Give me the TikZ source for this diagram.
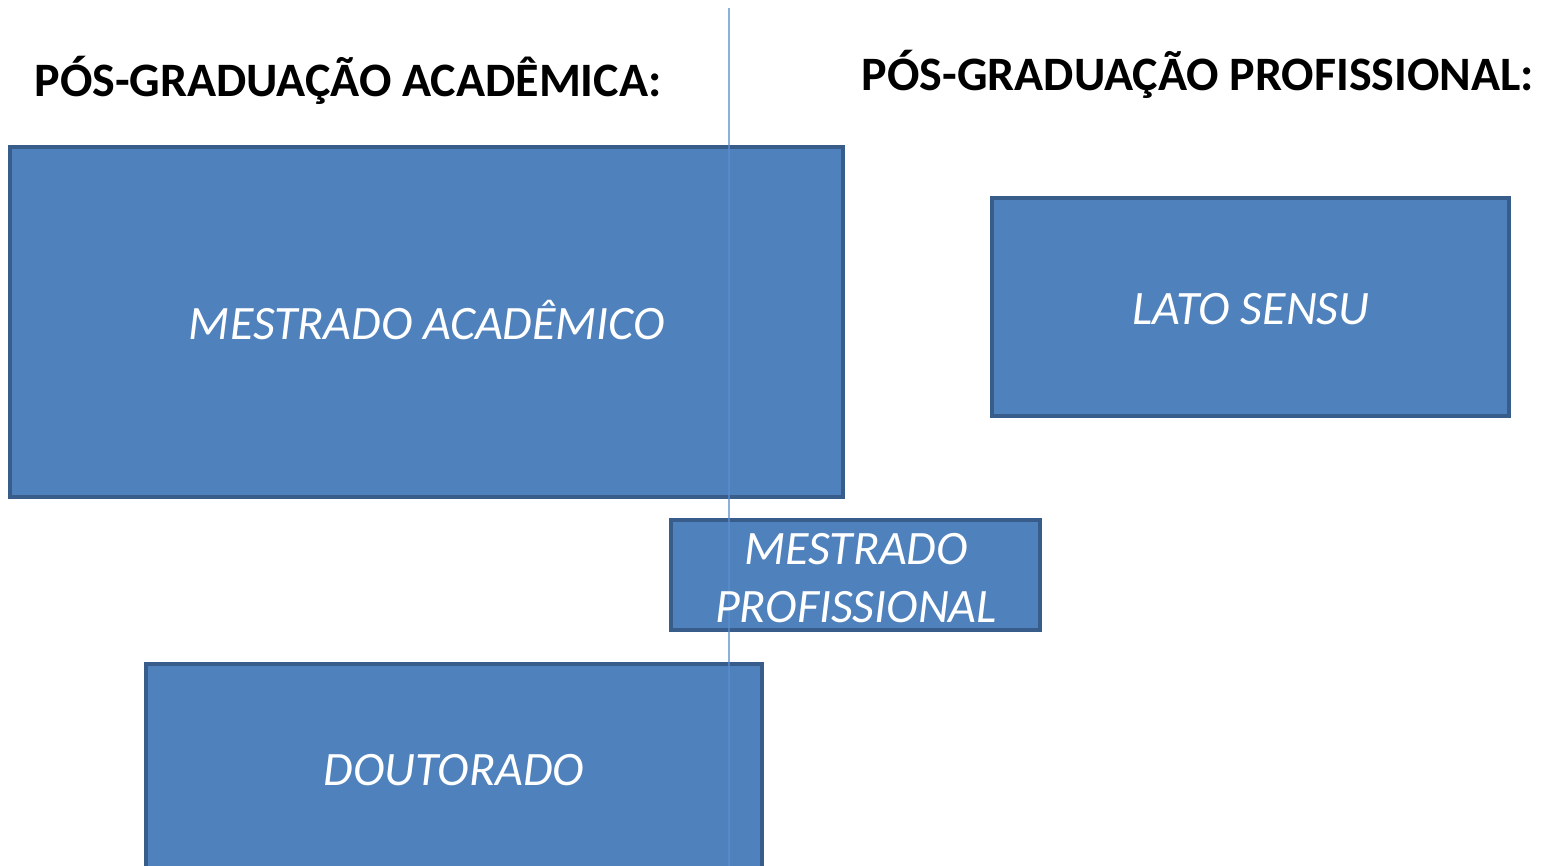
\documentclass[tikz,border=0pt]{standalone}
\usepackage{fontspec}
\setmainfont{Carlito}
\definecolor{boxfill}{HTML}{4F81BD}
\definecolor{boxline}{HTML}{385D8A}
\definecolor{vline}{HTML}{5B8ED0}
\begin{document}
\begin{tikzpicture}[x=1pt,y=-1pt,
  blk/.style={draw=boxline,line width=3.5pt,fill=boxfill},
  lbl/.style={anchor=base,text=white,font=\fontsize{48}{56}\selectfont\itshape,inner sep=0pt},
  ttl/.style={anchor=base,text=black,font=\fontsize{48}{56}\selectfont\bfseries,inner sep=0pt}]
\useasboundingbox (0,0) rectangle (1547,866);
\begin{scope}
\clip (0,0) rectangle (1547,866);
\draw[blk] (10,147) rectangle (843,497);
\draw[blk] (992,198) rectangle (1509,416);
\draw[blk] (671,520) rectangle (1040,630);
\draw[blk] (146,664) rectangle (762,900);
\coordinate (ltop) at (729,8);
\coordinate (lbot) at (729,866);
\draw[vline,line width=1.6pt,opacity=0.7] (ltop) -- (lbot);
\end{scope}
\node[ttl] (t1) at (348,97) {PÓS-GRADUAÇÃO ACADÊMICA:};
\node[ttl] (t2) at (1198,91) {PÓS-GRADUAÇÃO PROFISSIONAL:};
\node[lbl] (ma) at (427,340) {MESTRADO ACADÊMICO};
\node[lbl] (ls) at (1251,325) {LATO SENSU};
\node[lbl] (mp1) at (856,564) {MESTRADO};
\node[lbl] (mp2) at (856,622) {PROFISSIONAL};
\node[lbl] (do) at (454,785) {DOUTORADO};
\end{tikzpicture}
\end{document}
